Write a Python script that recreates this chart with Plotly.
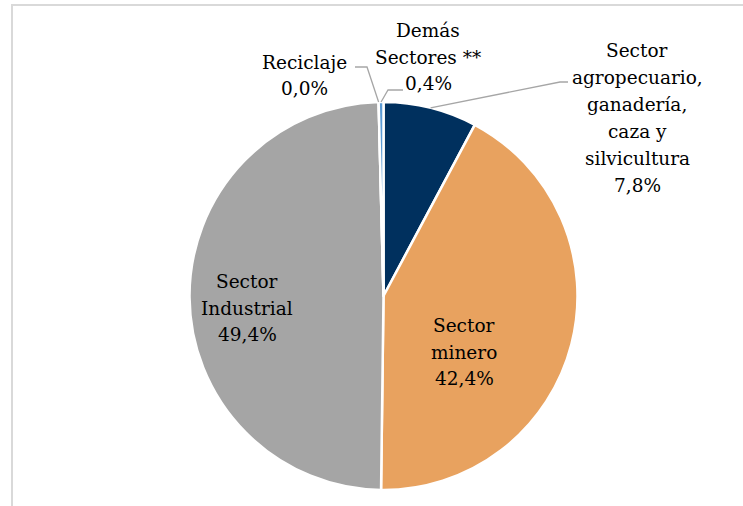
import math
import plotly.graph_objects as go

labels = ["Sector agropecuario, ganadería, caza y silvicultura", "Sector minero",
          "Sector Industrial", "Reciclaje", "Demás Sectores **"]
values = [7.8, 42.4, 49.4, 0.0, 0.4]
colors = ["#00305E", "#E8A25F", "#A5A5A5", "#7F7F7F", "#5B9BD5"]
label_lines = [
    ["Sector", "agropecuario,", "ganadería,", "caza y", "silvicultura", "7,8%"],
    ["Sector", "minero", "42,4%"],
    ["Sector", "Industrial", "49,4%"],
    ["Reciclaje", "0,0%"],
    ["Demás", "Sectores **", "0,4%"],
]
# label block centers (px)
label_pos = [(637, 118), (464, 352), (247, 308), (304, 75.5), (428, 57)]

W, H = 743, 506
CX, CY, R = 383.5, 296.0, 194.0
FONT = "DejaVu Serif"
FS = 18.5
LS = 26.8


def px(x, y):
    return x / W, 1 - y / H


fig = go.Figure(go.Pie(
    labels=labels, values=values, sort=False, direction="clockwise", rotation=0,
    marker=dict(colors=colors, line=dict(color="white", width=2.5)),
    textinfo="none", hoverinfo="label+percent", showlegend=False,
    domain=dict(x=[(CX - R) / W, (CX + R) / W], y=[1 - (CY + R) / H, 1 - (CY - R) / H]),
))

annotations = []
for lines, (lx, ly) in zip(label_lines, label_pos):
    n = len(lines)
    for i, t in enumerate(lines):
        yy = ly + (i - (n - 1) / 2) * LS
        x, y = px(lx, yy)
        annotations.append(dict(x=x, y=y, xref="paper", yref="paper", text=t, showarrow=False,
                                xanchor="center", yanchor="middle",
                                font=dict(family=FONT, size=FS, color="#000000")))

# leader lines from slice mid-angles to labels
total = sum(values)
cum = 0
mids = []
for v in values:
    mids.append((cum + v / 2) / total * 2 * math.pi)
    cum += v


def edge(i):
    a = mids[i]
    return CX + R * math.sin(a), CY - R * math.cos(a)


leaders = {0: [(560, 82), (568, 82)], 3: [(367, 67), (355, 67)], 4: [(388, 90), (403, 90)]}
shapes = []
for i, pts in leaders.items():
    p = [edge(i)] + pts
    path = "M " + " L ".join(f"{px(x, y)[0]},{px(x, y)[1]}" for x, y in p)
    shapes.append(dict(type="path", xref="paper", yref="paper", path=path,
                       line=dict(color="#A6A6A6", width=1.3)))

# chart frame
x0, y1 = px(12, 5)
shapes.append(dict(type="rect", xref="paper", yref="paper", x0=x0, y0=-0.2, x1=1.2, y1=y1,
                   line=dict(color="#D9D9D9", width=2), fillcolor="rgba(0,0,0,0)", layer="below"))

fig.update_layout(width=W, height=H, margin=dict(l=0, r=0, t=0, b=0),
                  paper_bgcolor="white", plot_bgcolor="white",
                  font=dict(family=FONT),
                  annotations=annotations, shapes=shapes)
fig.write_html("out.html")
